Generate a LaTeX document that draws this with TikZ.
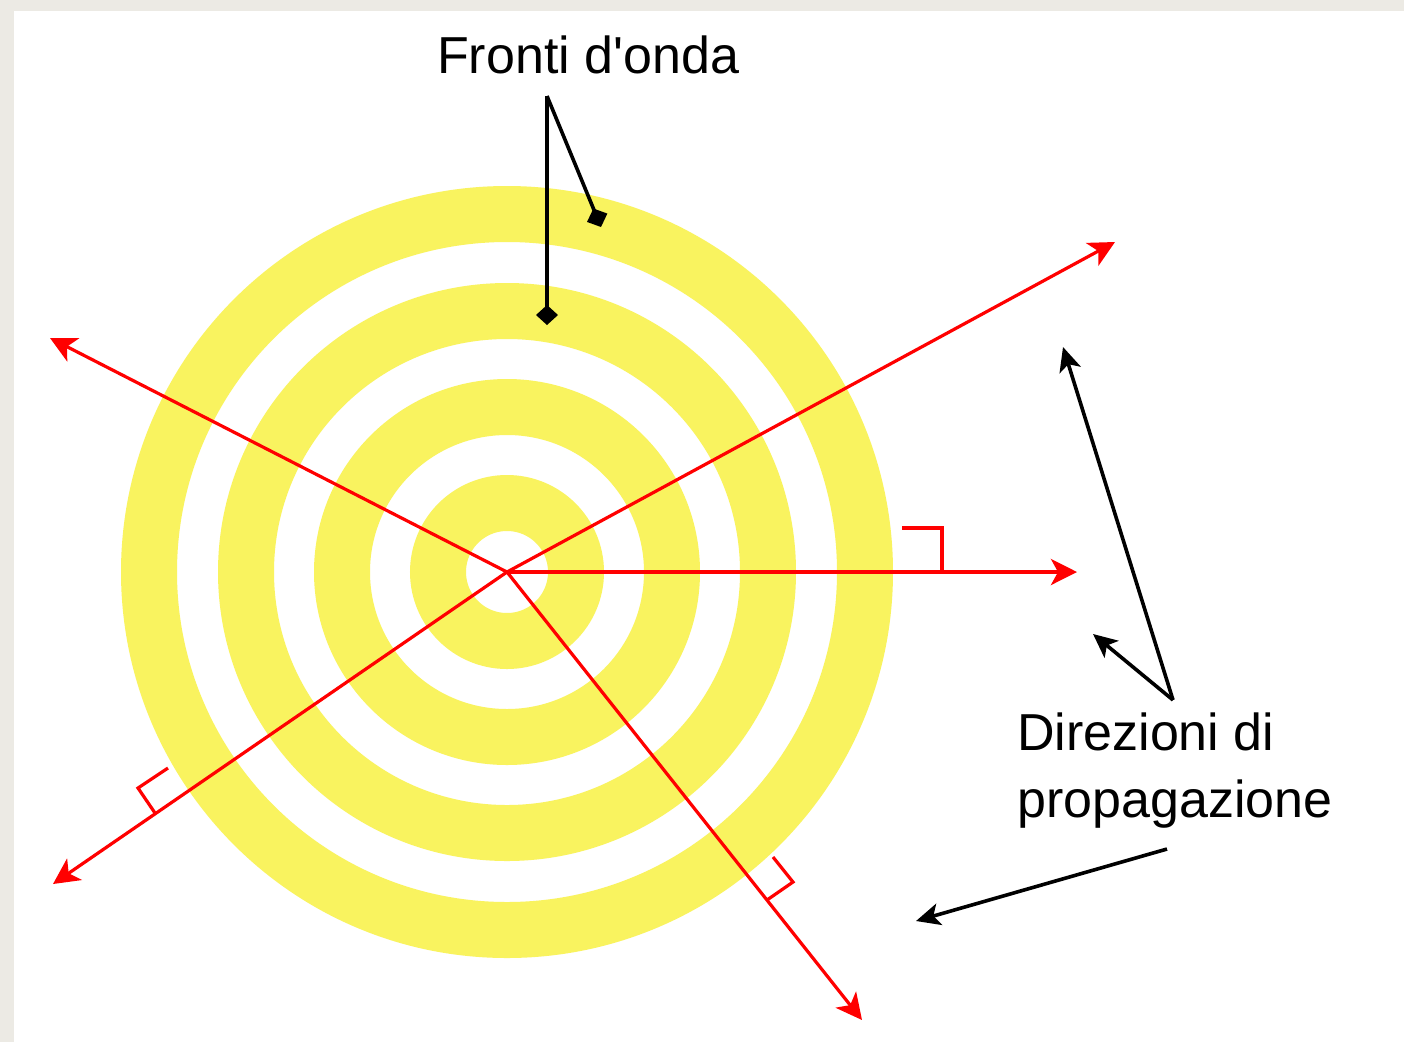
\documentclass[tikz,border=0pt]{standalone}
\usepackage{fontspec}
\setmainfont{Liberation Sans}[Ligatures=TeXOff]
\usetikzlibrary{arrows.meta}
\definecolor{ringc}{RGB}{249,243,95}
\definecolor{framec}{RGB}{236,234,228}
\begin{document}
\begin{tikzpicture}[x=1pt,y=-1pt,
  wave/.style={draw=ringc,line width=56pt},
  ray/.style={draw=red,line width=3.2pt,-{Stealth[length=26pt,width=26pt,inset=7pt]}},
  rmark/.style={draw=red,line width=3.2pt},
  lbl/.style={font=\fontsize{52}{67}\selectfont,inner sep=0pt,anchor=base west},
  ptr/.style={draw=black,line width=3.6pt,-{Stealth[length=24pt,width=22pt,inset=6pt]}},
  dia/.style={draw=black,line width=3.6pt,-{Turned Square[length=20pt,width=22pt]}}]
\useasboundingbox (0,0) rectangle (1404,1042);
\fill[white] (0,0) rectangle (1404,1042);
\fill[framec] (0,0) rectangle (1404,11);
\fill[framec] (0,0) rectangle (14,1042);

\coordinate (O) at (507,572);
\foreach \r in {69,165,261,358} \draw[wave] (O) circle[radius=\r];

% rays
\coordinate (tUL) at (50,338);
\coordinate (tUR) at (1115,242);
\coordinate (tR) at (1077,572);
\coordinate (tLL) at (53,884);
\coordinate (tLR) at (862,1020);
\draw[ray] (O) -- (tUL);
\draw[ray] (O) -- (tUR);
\draw[ray,line width=3.8pt] (O) -- (tR);
\draw[ray] (O) -- (tLL);
\draw[ray] (O) -- (tLR);

% right-angle marks
\draw[rmark,line width=3.8pt] (902,528) -- (942,528) -- (942,572);
\draw[rmark] (168,768) -- (138,788) -- (155,813);
\draw[rmark] (773,857) -- (793,882) -- (767,900);

% labels
\node[lbl] (fronti) at (437,73) {Fronti d'onda};
\node[lbl,align=left] (direz) at (1017,817) {Direzioni di\\propagazione};

% pointers
\coordinate (fa) at (547,96);
\coordinate (d1) at (547,325);
\coordinate (d2) at (601,227);
\draw[dia] (fa) -- (d1);
\draw[dia] (fa) -- (d2);

\coordinate (dp) at (1173,700);
\coordinate (a1) at (1063,347);
\coordinate (a2) at (1093,634);
\draw[ptr] (dp) -- (a1);
\draw[ptr] (dp) -- (a2);
\coordinate (dq) at (1167,849);
\coordinate (a3) at (916,921);
\draw[ptr] (dq) -- (a3);
\end{tikzpicture}
\end{document}
